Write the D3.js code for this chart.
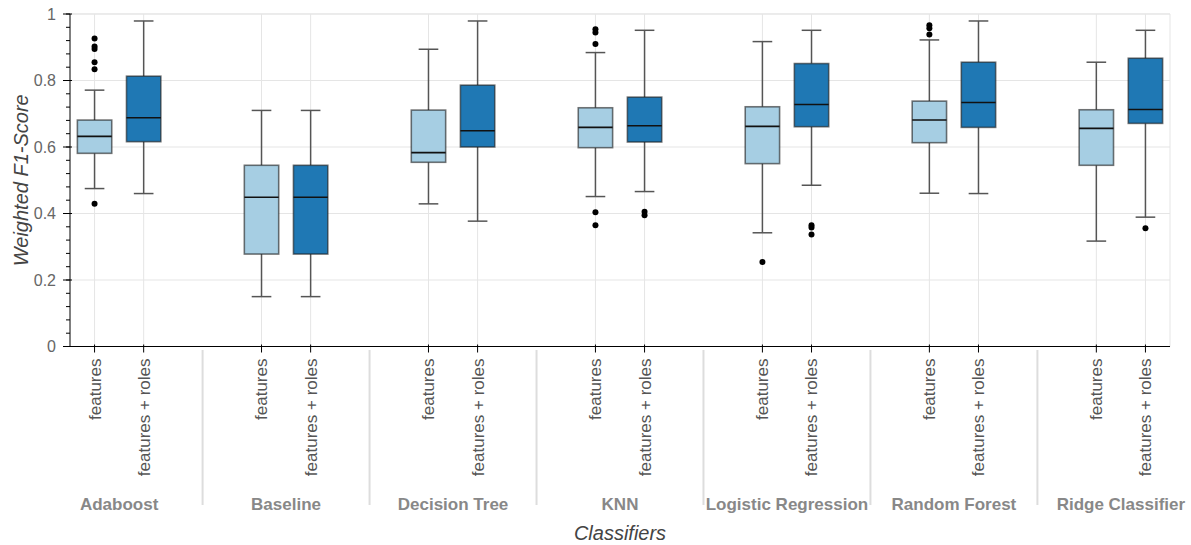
<!DOCTYPE html>
<html>
<head>
<meta charset="utf-8">
<script src="https://cdn.jsdelivr.net/npm/d3@7"></script>
<style>
  html, body { margin: 0; padding: 0; background: #fff; }
  svg { display: block; font-family: "Liberation Sans", Arial, sans-serif; }
</style>
</head>
<body>
<svg id="chart" width="1191" height="545"></svg>
<script>
// ---- Data ----
const classifiers = ["Adaboost", "Baseline", "Decision Tree", "KNN", "Logistic Regression", "Random Forest", "Ridge Classifier"];
const featureSets = ["features", "features + roles"];
// For each classifier: [features, features + roles]
const lowerWhisker = [[0.475, 0.460], [0.150, 0.150], [0.429, 0.377], [0.451, 0.466], [0.342, 0.485], [0.461, 0.460], [0.317, 0.389]];
const q1 =           [[0.581, 0.616], [0.278, 0.278], [0.554, 0.600], [0.598, 0.615], [0.550, 0.661], [0.613, 0.659], [0.545, 0.671]];
const median =       [[0.632, 0.688], [0.449, 0.449], [0.583, 0.649], [0.659, 0.664], [0.662, 0.728], [0.681, 0.734], [0.656, 0.713]];
const q3 =           [[0.681, 0.813], [0.545, 0.545], [0.711, 0.786], [0.718, 0.750], [0.721, 0.851], [0.738, 0.855], [0.712, 0.867]];
const upperWhisker = [[0.771, 0.979], [0.710, 0.710], [0.894, 0.979], [0.884, 0.951], [0.917, 0.951], [0.922, 0.979], [0.855, 0.951]];
const outliers = [
  [[0.926, 0.902, 0.895, 0.855, 0.834, 0.429], []],
  [[], []],
  [[], []],
  [[0.954, 0.944, 0.910, 0.404, 0.365], [0.405, 0.395]],
  [[0.254], [0.365, 0.358, 0.337]],
  [[0.966, 0.957, 0.938], []],
  [[], [0.356]]
];
const yTicks = [0, 0.2, 0.4, 0.6, 0.8, 1];
const colors = ["#a6cee3", "#1f78b4"];

// ---- Layout ----
const svg = d3.select("#chart");
const pL = 70, pR = 1170, pT = 14, pB = 346.5;
const groupPad = 1.4;
const nG = classifiers.length;
const totalUnits = nG * featureSets.length + (nG - 1) * groupPad;
const unit = d3.scaleLinear().domain([0, totalUnits]).range([pL, pR]);
const xCenter = (gi, si) => unit(gi * (featureSets.length + groupPad) + si + 0.5);
const uw = unit(1) - unit(0);

const y = d3.scaleLinear().domain([0, 1]).range([pB, pT]);

// Grid
const grid = svg.append("g");
yTicks.forEach(t => {
  grid.append("line").attr("x1", pL).attr("x2", pR).attr("y1", y(t)).attr("y2", y(t))
    .attr("stroke", "#e5e5e5").attr("stroke-width", 1);
});
classifiers.forEach((c, gi) => featureSets.forEach((f, si) => {
  grid.append("line").attr("x1", xCenter(gi, si)).attr("x2", xCenter(gi, si)).attr("y1", pT).attr("y2", pB)
    .attr("stroke", "#e5e5e5").attr("stroke-width", 1);
}));
svg.append("line").attr("x1", pR).attr("x2", pR).attr("y1", pT).attr("y2", pB).attr("stroke", "#e5e5e5");
svg.append("line").attr("x1", pL).attr("x2", pR).attr("y1", pT).attr("y2", pT).attr("stroke", "#e5e5e5");

// Boxes
const boxes = svg.append("g");
classifiers.forEach((c, gi) => featureSets.forEach((f, si) => {
  const cx = xCenter(gi, si);
  const bw = 0.7 * uw, cw = 0.4 * uw;
  const g = boxes.append("g");
  const wl = (x1, x2, y1, y2) => g.append("line").attr("x1", x1).attr("x2", x2).attr("y1", y1).attr("y2", y2)
    .attr("stroke", "#555").attr("stroke-width", 1.5);
  wl(cx, cx, y(q3[gi][si]), y(upperWhisker[gi][si]));
  wl(cx, cx, y(q1[gi][si]), y(lowerWhisker[gi][si]));
  wl(cx - cw / 2, cx + cw / 2, y(upperWhisker[gi][si]), y(upperWhisker[gi][si]));
  wl(cx - cw / 2, cx + cw / 2, y(lowerWhisker[gi][si]), y(lowerWhisker[gi][si]));
  g.append("rect").attr("x", cx - bw / 2).attr("width", bw)
    .attr("y", y(q3[gi][si])).attr("height", y(q1[gi][si]) - y(q3[gi][si]))
    .attr("fill", colors[si]).attr("stroke", "#1a1a1a").attr("stroke-opacity", 0.6).attr("stroke-width", 1.6);
  g.append("line").attr("x1", cx - bw / 2).attr("x2", cx + bw / 2).attr("y1", y(median[gi][si])).attr("y2", y(median[gi][si]))
    .attr("stroke", "#111").attr("stroke-width", 1.6);
  outliers[gi][si].forEach(v => {
    g.append("circle").attr("cx", cx).attr("cy", y(v)).attr("r", 3).attr("fill", "#000");
  });
}));

// Y axis
const yAxis = svg.append("g");
yAxis.append("line").attr("x1", pL).attr("x2", pL).attr("y1", pT).attr("y2", pB).attr("stroke", "#000");
d3.range(0, 26).forEach(i => {
  const v = i * 0.04;
  yAxis.append("line").attr("x1", pL - 4).attr("x2", pL).attr("y1", y(v)).attr("y2", y(v)).attr("stroke", "#000");
});
yTicks.forEach(t => {
  yAxis.append("line").attr("x1", pL - 7).attr("x2", pL + 2).attr("y1", y(t)).attr("y2", y(t)).attr("stroke", "#000");
  yAxis.append("text").attr("x", pL - 14).attr("y", y(t)).attr("dy", "0.35em").attr("text-anchor", "end")
    .attr("font-size", 16).attr("fill", "#666").text(d3.format("~g")(t));
});
svg.append("text").attr("transform", `translate(28,${(pT + pB) / 2}) rotate(-90)`)
  .attr("text-anchor", "middle").attr("font-size", 20).attr("font-style", "italic").attr("fill", "#444")
  .text("Weighted F1-Score");

// X axis
const xAxis = svg.append("g");
xAxis.append("line").attr("x1", pL).attr("x2", pR).attr("y1", pB).attr("y2", pB).attr("stroke", "#000");
classifiers.forEach((c, gi) => {
  featureSets.forEach((f, si) => {
    const cx = xCenter(gi, si);
    xAxis.append("line").attr("x1", cx).attr("x2", cx).attr("y1", pB - 2).attr("y2", pB + 6).attr("stroke", "#000");
    xAxis.append("text").attr("transform", `translate(${cx},${pB + 12}) rotate(-90)`)
      .attr("text-anchor", "end").attr("dy", "0.35em").attr("font-size", 17).attr("fill", "#555").text(f);
  });
  const gc = (xCenter(gi, 0) + xCenter(gi, 1)) / 2;
  xAxis.append("text").attr("x", gc).attr("y", 510).attr("text-anchor", "middle")
    .attr("font-size", 17).attr("font-weight", "bold").attr("fill", "#888").text(c);
  if (gi > 0) {
    const sx = (xCenter(gi - 1, 1) + xCenter(gi, 0)) / 2;
    xAxis.append("line").attr("x1", sx).attr("x2", sx).attr("y1", 350).attr("y2", 505)
      .attr("stroke", "#ddd").attr("stroke-width", 2);
  }
});
svg.append("text").attr("x", (pL + pR) / 2).attr("y", 540).attr("text-anchor", "middle")
  .attr("font-size", 20).attr("font-style", "italic").attr("fill", "#444").text("Classifiers");
</script>
</body>
</html>
